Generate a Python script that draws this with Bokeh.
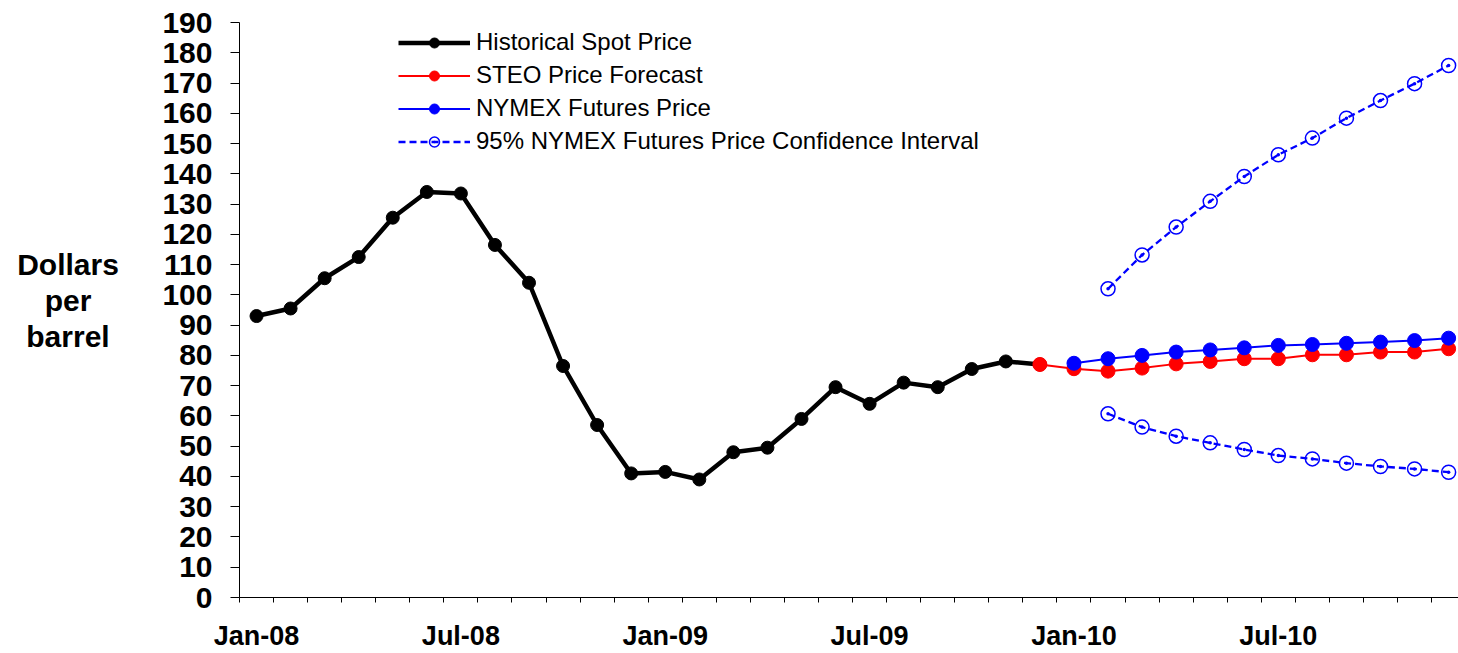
from bokeh.plotting import figure
from bokeh.models import FixedTicker, Range1d, Legend, LegendItem, Div
from bokeh.layouts import row
from bokeh.embed import file_html
from bokeh.resources import INLINE

# ---- data ----
years = ["08", "09", "10"]
month_names = ["Jan", "Feb", "Mar", "Apr", "May", "Jun",
               "Jul", "Aug", "Sep", "Oct", "Nov", "Dec"]
months = [f"{m}-{y}" for y in years for m in month_names]

tick_labels = ["Jan-08", "Jul-08", "Jan-09", "Jul-09", "Jan-10", "Jul-10"]

hist_start = "Jan-08"
hist = [93.0, 95.5, 105.5, 112.5, 125.5, 134.0, 133.5, 116.5, 104.0, 76.5,
        57.0, 41.0, 41.5, 39.0, 48.0, 49.5, 59.0, 69.5, 64.0, 71.0, 69.5,
        75.5, 78.0, 77.0]

steo_start = "Dec-09"
steo = [77.0, 75.6, 74.8, 75.8, 77.2, 78.0, 78.9, 78.9, 80.2, 80.2, 81.1,
        81.1, 82.2]

nymex_start = "Jan-10"
nymex = [77.4, 78.9, 80.0, 81.1, 81.8, 82.5, 83.3, 83.6, 84.0, 84.4, 84.9,
         85.7]

ci_start = "Feb-10"
ci_upper = [102.0, 113.2, 122.4, 130.9, 139.1, 146.3, 151.8, 158.4, 164.2,
            169.8, 175.8]
ci_lower = [60.7, 56.3, 53.3, 51.1, 48.9, 46.9, 45.8, 44.4, 43.3, 42.5, 41.4]

y_ticks = list(range(0, 200, 10))
y_title = ["Dollars", "per", "barrel"]


def xs(start, vals):
    i0 = months.index(start)
    return [i0 + k + 0.5 for k in range(len(vals))]


FONT = "Liberation Sans"
TITLE_W = 136

p = figure(width=1458 - TITLE_W, height=653, output_backend="svg",
           toolbar_location=None,
           x_range=Range1d(0, 35.79), y_range=Range1d(0, 190),
           min_border_left=239 - TITLE_W, min_border_right=0, min_border_top=22,
           min_border_bottom=56)
p.outline_line_color = None
p.xgrid.visible = False
p.ygrid.visible = False
p.background_fill_color = "white"
p.border_fill_color = "white"

# historical
hx = xs(hist_start, hist)
r_hl = p.line(hx, hist, line_color="black", line_width=4.5)
r_hp = p.scatter(hx, hist, marker="circle", size=13, color="black")

# STEO
sx = xs(steo_start, steo)
r_sl = p.line(sx, steo, line_color="#FF0000", line_width=2)
r_sp = p.scatter(sx, steo, marker="circle", size=14, color="#FF0000")

# NYMEX
nx = xs(nymex_start, nymex)
r_nl = p.line(nx, nymex, line_color="#0000FF", line_width=2)
r_np = p.scatter(nx, nymex, marker="circle", size=14, color="#0000FF")

# confidence interval
cx = xs(ci_start, ci_upper)
r_ul = p.line(cx, ci_upper, line_color="#0000FF", line_width=2.3, line_dash="7 4")
r_up = p.scatter(cx, ci_upper, marker="circle_dot", size=14, line_color="#0000FF",
                 line_width=1.5, fill_alpha=0)
r_ll = p.line(cx, ci_lower, line_color="#0000FF", line_width=2.3, line_dash="7 4")
r_lp = p.scatter(cx, ci_lower, marker="circle_dot", size=14, line_color="#0000FF",
                 line_width=1.5, fill_alpha=0)

# axes
xa = p.xaxis[0]
tick_pos = [months.index(t) + 0.5 for t in tick_labels]
xa.ticker = FixedTicker(ticks=tick_pos, minor_ticks=list(range(0, 37)))
xa.major_label_overrides = {t: lab for t, lab in zip(tick_pos, tick_labels)}
xa.major_tick_out = 0
xa.major_tick_in = 0
xa.minor_tick_out = 5
xa.minor_tick_in = 0
xa.major_label_standoff = 18
xa.major_label_text_font = FONT
xa.major_label_text_font_style = "bold"
xa.major_label_text_font_size = "27px"
xa.major_label_text_color = "black"
xa.axis_line_color = "black"
xa.major_tick_line_color = "black"
xa.minor_tick_line_color = "black"

ya = p.yaxis[0]
ya.ticker = FixedTicker(ticks=y_ticks, minor_ticks=[])
ya.major_tick_out = 9
ya.major_tick_in = 0
ya.major_label_standoff = 18
ya.major_label_text_font = FONT
ya.major_label_text_font_style = "bold"
ya.major_label_text_font_size = "30px"
ya.major_label_text_color = "black"
ya.axis_line_color = "black"
ya.major_tick_line_color = "black"

legend = Legend(items=[
    LegendItem(label="Historical Spot Price", renderers=[r_hl, r_hp]),
    LegendItem(label="STEO Price Forecast", renderers=[r_sl, r_sp]),
    LegendItem(label="NYMEX Futures Price", renderers=[r_nl, r_np]),
    LegendItem(label="95% NYMEX Futures Price Confidence Interval",
               renderers=[r_ul, r_up]),
], location=(159, 442))
legend.padding = 0
legend.margin = 0
legend.border_line_color = None
legend.background_fill_alpha = 0
legend.glyph_width = 72
legend.glyph_height = 25
legend.label_height = 25
legend.spacing = 5
legend.label_standoff = 6
legend.label_text_font = FONT
legend.label_text_font_size = "24px"
legend.label_text_color = "black"
p.add_layout(legend)

# horizontal, centred three-line y-axis title
title_div = Div(
    text=('<div style="font-family:\'Liberation Sans\';font-weight:bold;'
          'font-size:30px;line-height:36px;text-align:center;color:black;'
          f'width:{TITLE_W}px;margin-top:247px;">'
          + "<br>".join(y_title) + "</div>"),
    width=TITLE_W, height=653, margin=(0, 0, 0, 0))

layout = row(title_div, p, spacing=0)

open("out.html", "w").write(file_html(layout, INLINE))
